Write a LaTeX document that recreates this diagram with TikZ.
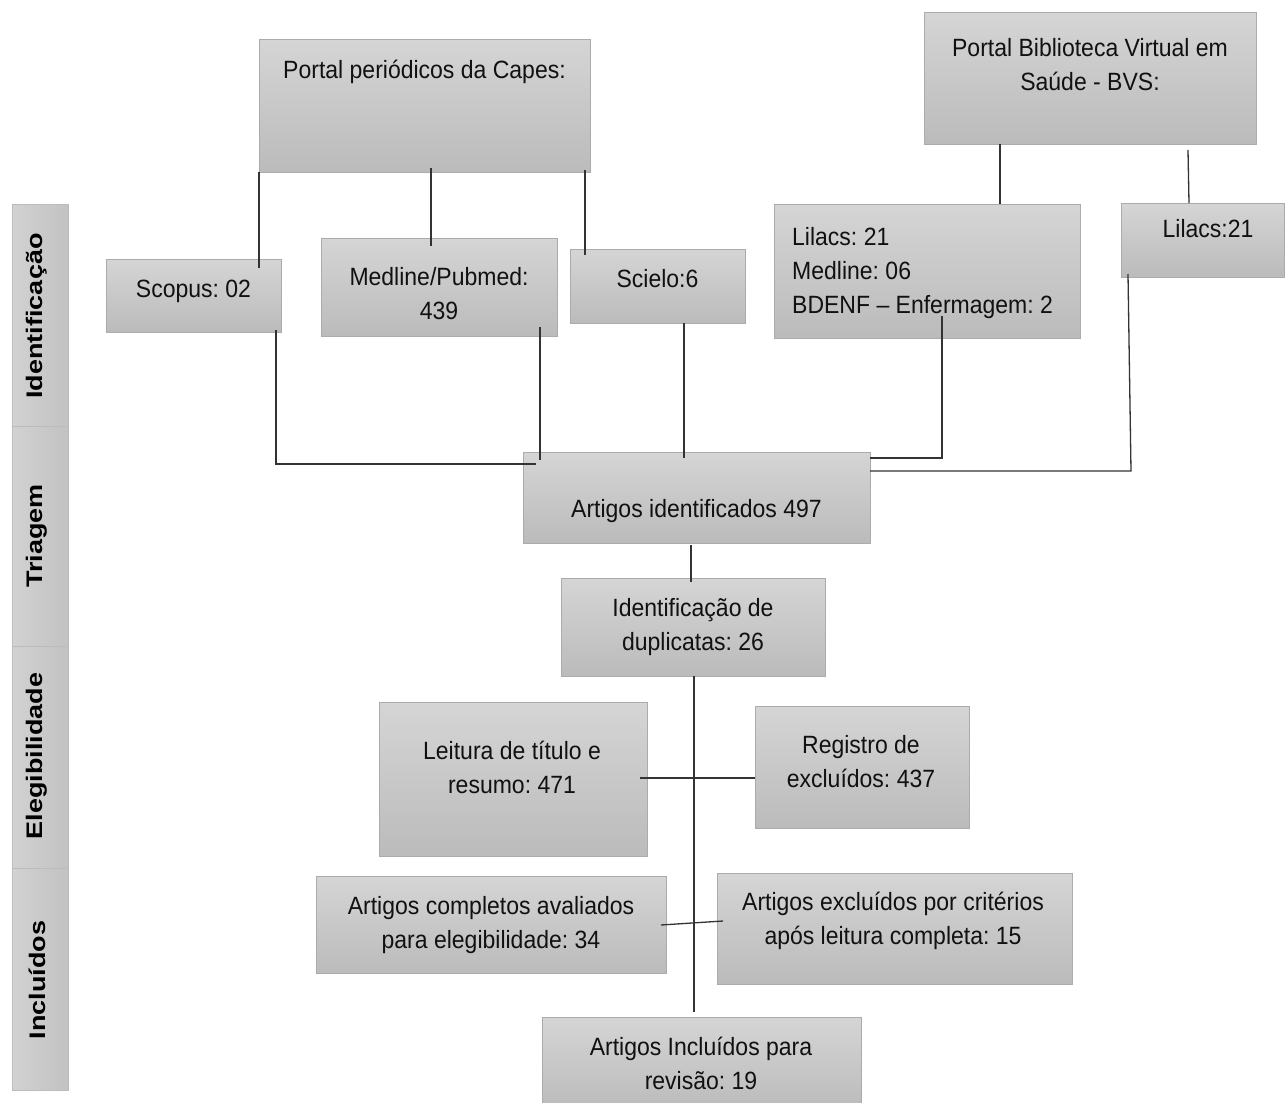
\documentclass[tikz,border=0pt]{standalone}
\usepackage{fontspec}
\setmainfont{Liberation Sans}[FakeStretch=0.92]
\newfontfamily\sidefont{Liberation Sans Bold}[FakeStretch=1.2]
\usetikzlibrary{calc}
\definecolor{boxtop}{HTML}{D5D5D5}
\definecolor{boxbot}{HTML}{BBBBBB}
\definecolor{boxedge}{HTML}{ABABAB}
\definecolor{linec}{HTML}{333333}
\definecolor{txt}{HTML}{111111}
\definecolor{barl}{HTML}{D2D2D2}
\definecolor{barr}{HTML}{C2C2C2}
\newcommand{\mystrut}{\rule{0pt}{24pt}}
\frenchspacing
\begin{document}
\begin{tikzpicture}[x=1pt,y=-1pt,
  box/.style={draw=boxedge, line width=0.8pt, top color=boxtop, bottom color=boxbot, inner sep=0pt, outer sep=0pt},
  bar/.style={draw=boxedge!80!white, line width=0.8pt, left color=barl, right color=barr, inner sep=0pt, outer sep=0pt, minimum width=56},
  lbl/.style={anchor=north, inner sep=0pt, align=center, text=txt, font=\fontsize{25}{34}\selectfont},
  side/.style={rotate=90, inner sep=0pt, text=black, font=\sidefont\fontsize{22.5}{26}\selectfont},
  conn/.style={draw=linec, line width=1.3pt}]
\useasboundingbox (0,0) rectangle (1286,1103);
\fill[white] (0,0) rectangle (1286,1103);

% side bars
\node[bar, minimum height=222] (b1) at (40,315) {};
\node[bar, minimum height=220] (b2) at (40,536) {};
\node[bar, minimum height=222] (b3) at (40,757) {};
\node[bar, minimum height=222] (b4) at (40,979) {};
\node[side] (s1) at (37,316) {Identificação};
\node[side] (s2) at (37,536) {Triagem};
\node[side] (s3) at (37,756) {Elegibilidade};
\node[side] (s4) at (37,980) {Incluídos};

% boxes
\node[box, minimum width=331, minimum height=133] (capes) at (424.5,105.5) {};
\node[box, minimum width=332, minimum height=132] (bvs) at (1090,78) {};
\node[box, minimum width=175, minimum height=73] (scopus) at (193.5,295.5) {};
\node[box, minimum width=236, minimum height=98] (medline) at (439,287) {};
\node[box, minimum width=175, minimum height=74] (scielo) at (657.5,286) {};
\node[box, minimum width=306, minimum height=134] (lilacs) at (927,271) {};
\node[box, minimum width=163, minimum height=74] (lilacs2) at (1202.5,240) {};
\node[box, minimum width=347, minimum height=91] (artid) at (696.5,497.5) {};
\node[box, minimum width=264, minimum height=98] (dup) at (693,627) {};
\node[box, minimum width=268, minimum height=154] (leitura) at (513,779) {};
\node[box, minimum width=214, minimum height=122] (registro) at (862,767) {};
\node[box, minimum width=350, minimum height=97] (completos) at (491,924.5) {};
\node[box, minimum width=355, minimum height=111] (excl) at (894.5,928.5) {};
\node[box, minimum width=319, minimum height=93] (incl) at (701.5,1063.5) {};

% texts
\node[lbl] (tcapes) at (424.5,54) {\mystrut Portal periódicos da Capes:};
\node[lbl] (tbvs) at (1090,32) {\mystrut Portal Biblioteca Virtual em\\Saúde - BVS:};
\node[lbl] (tscopus) at (193.5,273) {\mystrut Scopus: 02};
\node[lbl] (tmedline) at (439,261) {\mystrut Medline/Pubmed:\\439};
\node[lbl] (tscielo) at (657.5,263) {\mystrut Scielo:6};
\node[lbl, anchor=north west, align=left] (tlilacs) at (792,221) {\mystrut Lilacs: 21\\Medline: 06\\BDENF – Enfermagem: 2};
\node[lbl] (tlilacs2) at (1208,213) {\mystrut Lilacs:21};
\node[lbl] (tartid) at (696.5,493) {\mystrut Artigos identificados 497};
\node[lbl] (tdup) at (693,592) {\mystrut Identificação de\\duplicatas: 26};
\node[lbl] (tleitura) at (512,735) {\mystrut Leitura de título e\\resumo: 471};
\node[lbl] (tregistro) at (861,729) {\mystrut Registro de\\excluídos: 437};
\node[lbl] (tcompletos) at (491,890) {\mystrut Artigos completos avaliados\\para elegibilidade: 34};
\node[lbl] (texcl) at (893,886) {\mystrut Artigos excluídos por critérios\\após leitura completa: 15};
\node[lbl] (tincl) at (701,1031) {\mystrut Artigos Incluídos para\\revisão: 19};

% connectors
\draw[conn] (capes.south west) -- ($(capes.south west |- scopus.north)+(0,9)$);
\draw[conn] ($(capes.south)+(6.5,-4)$) -- ($(capes.south |- medline.north)+(6.5,8)$);
\draw[conn] ($(capes.south east)+(-5,-2)$) -- ($(capes.south east |- scielo.north)+(-5,6)$);
\draw[conn] ($(bvs.south)+(-90,0)$) -- ($(bvs.south |- lilacs.north)+(-90,0)$);
\draw[conn] ($(bvs.south)+(98,6)$) -- ($(bvs.south |- lilacs2.north)+(99,0)$);
\draw[conn] ($(scopus.south east)+(-5,-2)$) -- ($(scopus.south east |- artid.north)+(-5,12)$) -- ($(artid.north west)+(13,12)$);
\draw[conn] ($(medline.south east)+(-17,-9)$) -- ($(medline.south east |- artid.north)+(-17,8)$);
\draw[conn] ($(scielo.south)+(26.5,0)$) -- ($(scielo.south |- artid.north)+(26.5,6)$);
\draw[conn] ($(lilacs.south)+(15,-22)$) -- ($(lilacs.south |- artid.north)+(15,6)$) -- ($(artid.north east)+(0,6)$);
\draw[conn] ($(lilacs2.south west)+(7,-3)$) -- ($(lilacs2.south west |- artid.north)+(10,19)$) -- ($(artid.north east)+(0,19)$);
\draw[conn] ($(artid.south)+(-5.5,2)$) -- ($(artid.south |- dup.north)+(-5.5,4)$);
\draw[conn] ($(dup.south)+(1,0)$) -- ($(dup.south |- incl.north)+(1,-5)$);
\draw[conn] ($(leitura.east)+(-7,-1)$) -- ($(registro.west |- leitura.east)+(0,-1)$);
\draw[conn] ($(completos.east)+(-5,0.5)$) -- ($(excl.west)+(6,-7.5)$);
\end{tikzpicture}
\end{document}
